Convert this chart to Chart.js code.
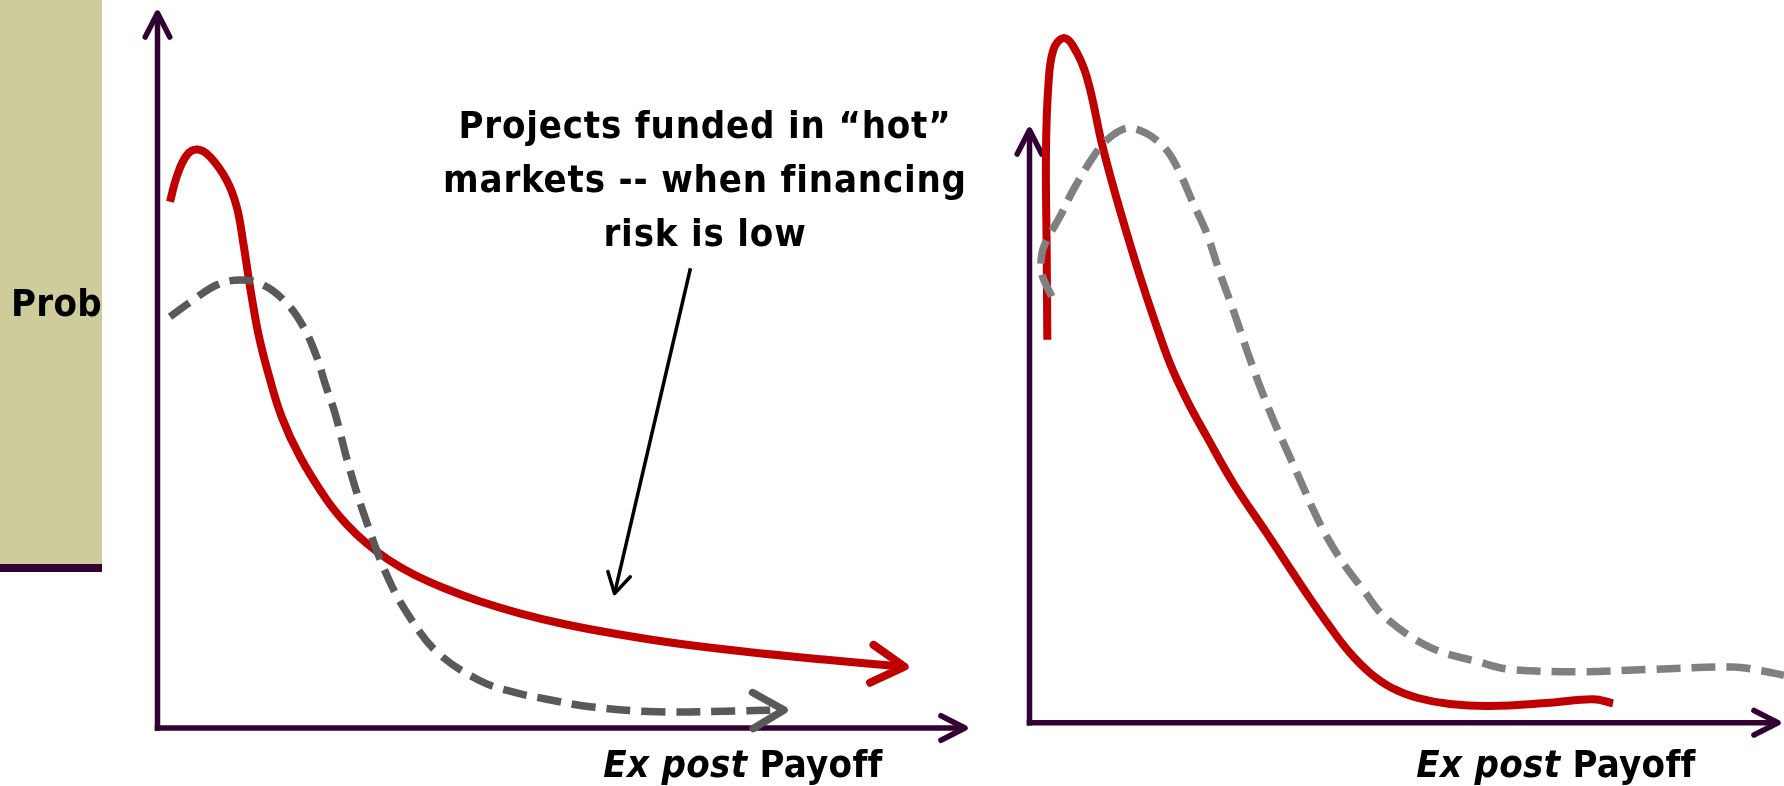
<!DOCTYPE html>
<html><head><meta charset="utf-8">
<script src="https://cdn.jsdelivr.net/npm/chart.js@4"></script>
<style>
html,body{margin:0;padding:0;background:#fff;width:1784px;height:786px;overflow:hidden;position:relative}
#side{position:absolute;left:0;top:0;width:102px;height:564px;background:#CDCC9A;border-bottom:8px solid #330033}
.t{position:absolute;font-family:"DejaVu Sans Condensed","DejaVu Sans",sans-serif;font-weight:bold;font-size:38px;line-height:38px;color:#000;white-space:nowrap;letter-spacing:0.3px}
.t i{font-style:oblique}
#c1{position:absolute;left:0;top:0}
#c2{position:absolute;left:1000px;top:0}
</style></head>
<body>
<div id="side"></div>
<canvas id="c1" width="1000" height="786"></canvas>
<canvas id="c2" width="784" height="786"></canvas>
<div class="t" style="left:11px;top:284px">Prob</div>
<div class="t" style="left:405px;top:98px;width:600px;text-align:center;line-height:54px;letter-spacing:0.8px">Projects funded in “hot”<br>markets -- when financing<br>risk is low</div>
<div class="t" style="left:543px;top:745px;width:400px;text-align:center"><i>Ex post</i> Payoff</div>
<div class="t" style="left:1356px;top:745px;width:400px;text-align:center"><i>Ex post</i> Payoff</div>
<script>
// ---- data (payoff on x, probability density on y; arbitrary 0-100 units) ----
const leftHotX  = [1.55, 2.38, 3.62, 4.93, 6.50, 8.57, 9.81, 10.63, 11.46, 12.48, 13.72, 15.38, 17.65, 20.97, 23.44, 25.92, 28.64, 31.74, 35.46, 39.79, 44.74, 50.32, 56.51, 63.94, 72.61, 82.51, 92.52];
const leftHotY  = [73.6, 77.1, 80.1, 80.9, 79.9, 76.6, 72.9, 67.8, 61.7, 55.2, 49.6, 43.5, 37.94, 31.89, 28.46, 25.80, 23.50, 21.47, 19.58, 17.76, 16.08, 14.55, 13.22, 11.89, 10.70, 9.58, 8.57];
const leftColdX = [1.55, 4.43, 7.33, 10.22, 13.10, 16.00, 18.06, 19.71, 20.74, 21.98, 23.72, 25.94, 28.67, 31.47, 34.74, 39.76, 43.90, 48.05, 53.56, 61.86, 72.88, 77.59];
const leftColdY = [57.52, 59.86, 61.96, 62.66, 61.96, 59.40, 56.13, 51.93, 48.21, 44.01, 36.55, 28.67, 20.70, 15.10, 10.49, 6.71, 5.08, 4.06, 2.98, 2.28, 2.42, 2.52];
const noteArrowX = [66.0, 56.6];
const noteArrowY = [64.3, 18.8];
const rightHotX  = [2.38, 2.30, 2.20, 2.51, 3.18, 4.52, 5.85, 7.64, 9.65, 11.20, 12.99, 14.76, 16.54, 18.77, 21.00, 23.67, 27.23, 31.69, 37.03, 40.15, 42.82, 45.49, 48.43, 51.90, 56.18, 61.52, 69.54, 75.28, 77.96];
const rightHotY  = [64.6, 79.2, 96.1, 107.3, 113.5, 115.5, 114.1, 109.0, 97.8, 90.4, 82.6, 75.3, 68.5, 60.6, 54.5, 48.3, 40.4, 32.0, 21.8, 16.15, 11.76, 8.39, 5.86, 4.17, 3.16, 2.82, 3.37, 3.95, 3.27];
const rightColdX = [2.97, 1.63, 1.66, 2.30, 4.07, 5.85, 8.52, 10.31, 12.99, 15.66, 18.33, 20.11, 21.88, 23.67, 25.45, 27.23, 29.02, 30.80, 32.57, 34.36, 36.14, 37.92, 39.71, 41.92, 44.60, 47.49, 53.51, 60.19, 64.2, 73.95, 82.9, 93.99, 97.2, 100.8];
const rightColdY = [71.9, 75.8, 79.2, 81.4, 85.4, 89.9, 95.5, 98.3, 100.3, 99.4, 96.6, 92.7, 87.6, 82.6, 75.8, 69.6, 62.9, 56.7, 51.1, 46.0, 41.0, 35.9, 31.4, 26.9, 22.4, 17.8, 12.7, 10.2, 9.0, 8.6, 9.0, 9.4, 8.9, 8.0];
const axisMin = 0, axisMax = 100;

const pts = (xs, ys) => xs.map((x, i) => ({x, y: ys[i]}));

function chevron(ctx, tx, ty, ang, len, spread) {
  ctx.beginPath();
  ctx.moveTo(tx - len * Math.cos(ang - spread), ty - len * Math.sin(ang - spread));
  ctx.lineTo(tx, ty);
  ctx.lineTo(tx - len * Math.cos(ang + spread), ty - len * Math.sin(ang + spread));
  ctx.stroke();
}

const sketchPlugin = {
  id: 'sketch',
  beforeDatasetsDraw(chart, args, opts) {
    const ctx = chart.ctx, xs = chart.scales.x, ys = chart.scales.y;
    const x0 = xs.getPixelForValue(axisMin), y0 = ys.getPixelForValue(axisMin);
    const xT = xs.getPixelForValue(axisMax), yT = ys.getPixelForValue(axisMax);
    const w = opts.axisWidth;
    ctx.save();
    ctx.strokeStyle = opts.axisColor; ctx.lineWidth = w; ctx.lineCap = 'butt';
    ctx.beginPath(); ctx.moveTo(x0, y0 + w / 2); ctx.lineTo(x0, yT + 2); ctx.stroke();
    ctx.beginPath(); ctx.moveTo(x0 - w / 2, y0); ctx.lineTo(xT - 2, y0); ctx.stroke();
    ctx.lineCap = 'round'; ctx.lineJoin = 'round';
    const sp = 27 * Math.PI / 180;
    chevron(ctx, x0, yT, -Math.PI / 2, 27, sp);
    chevron(ctx, xT, y0, 0, 27, sp);
    ctx.restore();
  },
  afterDatasetsDraw(chart) {
    const ctx = chart.ctx;
    chart.data.datasets.forEach((ds, i) => {
      if (!ds.arrowHead) return;
      const p = chart.getDatasetMeta(i).data;
      const a = p[p.length - 2], b = p[p.length - 1];
      const ang = Math.atan2(b.y - a.y, b.x - a.x);
      ctx.save();
      ctx.strokeStyle = ds.borderColor; ctx.lineWidth = ds.arrowHead.width;
      ctx.setLineDash([]); ctx.lineCap = 'round'; ctx.lineJoin = 'round';
      chevron(ctx, b.x, b.y, ang, ds.arrowHead.len, ds.arrowHead.spread * Math.PI / 180);
      ctx.restore();
    });
  }
};

function line(data, color, width, dash, arrow, extra) {
  return Object.assign({data, borderColor: color, borderWidth: width, borderDash: dash || [],
    borderCapStyle: 'butt', borderJoinStyle: 'round', showLine: true, pointRadius: 0,
    pointHoverRadius: 0, tension: 0.4, fill: false, clip: false, arrowHead: arrow || null}, extra || {});
}

function opts(pad) {
  return {
    responsive: false, animation: false, devicePixelRatio: 1, events: [],
    layout: {padding: pad},
    elements: {line: {capBezierPoints: false}},
    scales: {
      x: {type: 'linear', min: axisMin, max: axisMax, display: false},
      y: {type: 'linear', min: axisMin, max: axisMax, display: false}
    },
    plugins: {legend: {display: false}, tooltip: {enabled: false},
      sketch: {axisColor: '#330033', axisWidth: 5.5}}
  };
}

new Chart(document.getElementById('c1'), {
  type: 'scatter',
  data: {datasets: [
    line(pts(leftColdX, leftColdY), '#595959', 7.5, [24, 11], {width: 7.5, len: 36, spread: 30}),
    line(pts(leftHotX, leftHotY), '#C00000', 8, null, {width: 8, len: 38, spread: 30}),
    line(pts(noteArrowX, noteArrowY), '#000000', 3.5, null, {width: 3.5, len: 23, spread: 30}, {tension: 0})
  ]},
  options: opts({left: 157.5, right: 35, top: 13, bottom: 58}),
  plugins: [sketchPlugin]
});

new Chart(document.getElementById('c2'), {
  type: 'scatter',
  data: {datasets: [
    line(pts(rightColdX, rightColdY), '#808080', 7.5, [24, 11], null, {tension: 0.35}),
    line(pts(rightHotX, rightHotY), '#C00000', 8, null, null, {tension: 0.4})
  ]},
  options: opts({left: 29.5, right: 6, top: 130, bottom: 63.3}),
  plugins: [sketchPlugin]
});
</script>
</body></html>
